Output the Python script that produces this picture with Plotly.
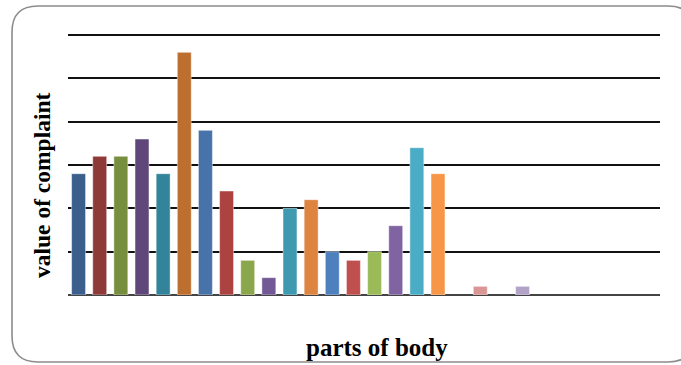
import plotly.graph_objects as go

# Complaint counts per body part (28 category slots, blanks have no bar)
slots = list(range(1, 29))
values = [14, 16, 16, 18, 14, 28, 19, 12, 4, 2, 10, 11, 5, 4, 5, 8, 17, 14,
          None, 1, None, 1, None, None, None, None, None, None]
colors = ["#3B5E8C", "#8E3A38", "#768E3E", "#5F4879", "#33849A", "#BD6F2F",
          "#4773AA", "#AC4340", "#8AA74C", "#725995", "#3F99B1", "#DC8440",
          "#4E80BE", "#C0504D", "#9BBB59", "#8064A2", "#4BACC6", "#F79646",
          "#D99694", "#D99694", "#B3A2C7", "#B3A2C7", "#999999", "#999999",
          "#999999", "#999999", "#999999", "#999999"]

W, H = 681, 365
L, R, T, B = 68, 660, 34, 295
YMAX = 30.12  # a little headroom so the top gridline is drawn


def px(x):
    return (x - L) / (R - L)


def py(y):
    return (B - y) / (B - T)


# rounded frame around the chart
x0, x1, y0, y1, r = 12, 694, 6, 362, 26
frame = (
    f"M {px(x0 + r)},{py(y0)} L {px(x1 - r)},{py(y0)} "
    f"Q {px(x1)},{py(y0)} {px(x1)},{py(y0 + r)} "
    f"L {px(x1)},{py(y1 - r)} Q {px(x1)},{py(y1)} {px(x1 - r)},{py(y1)} "
    f"L {px(x0 + r)},{py(y1)} Q {px(x0)},{py(y1)} {px(x0)},{py(y1 - r)} "
    f"L {px(x0)},{py(y0 + r)} Q {px(x0)},{py(y0)} {px(x0 + r)},{py(y0)} Z"
)

fig = go.Figure(
    go.Bar(
        x=slots,
        y=values,
        marker=dict(color=colors, line=dict(color="rgba(255,255,255,0.45)", width=1)),
        width=0.66,
    )
)

fig.update_layout(
    width=W,
    height=H,
    margin=dict(l=L, r=W - R, t=T, b=H - B),
    paper_bgcolor="white",
    plot_bgcolor="white",
    showlegend=False,
    font=dict(family="Liberation Serif", color="black"),
    xaxis=dict(range=[0.5, 28.5], showticklabels=False, ticks="", showgrid=False,
               zeroline=False, showline=False),
    yaxis=dict(range=[0, YMAX], tickvals=[5, 10, 15, 20, 25, 30], showticklabels=False,
               ticks="", showgrid=True, gridcolor="#111111", gridwidth=1.8,
               zeroline=True, zerolinecolor="#444444", zerolinewidth=2,
               showline=False),
    shapes=[dict(type="path", xref="paper", yref="paper", path=frame,
                 line=dict(color="#8C8C8C", width=1.6), layer="below")],
    annotations=[
        dict(text="<b>value of complaint</b>", textangle=-90, xref="paper", yref="paper",
             x=px(42), y=py(185), xanchor="center", yanchor="middle",
             showarrow=False, font=dict(size=23.5)),
        dict(text="<b>parts of body</b>", xref="paper", yref="paper",
             x=px(377), y=py(347), xanchor="center", yanchor="middle",
             showarrow=False, font=dict(size=25)),
    ],
)

fig.write_html("out.html")
